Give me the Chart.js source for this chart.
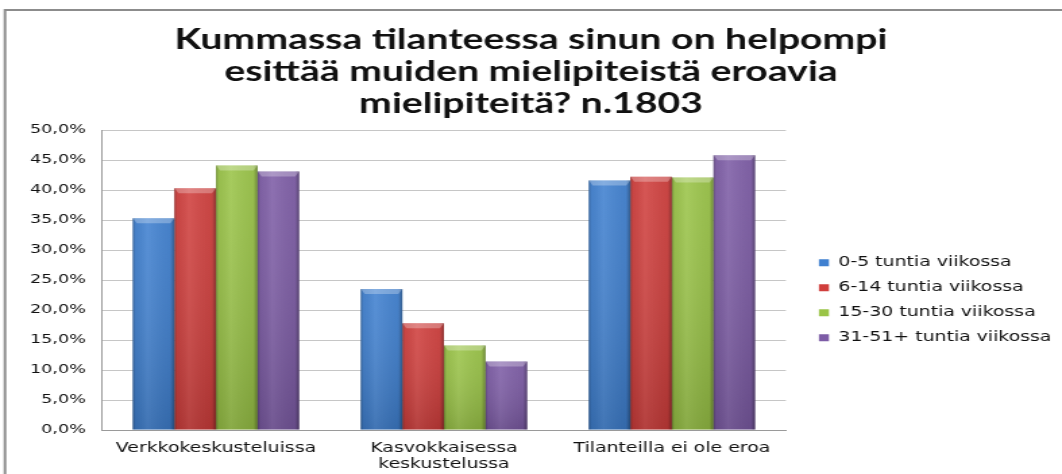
<!DOCTYPE html>
<html>
<head>
<meta charset="utf-8">
<script src="https://cdn.jsdelivr.net/npm/chart.js@4/dist/chart.umd.min.js"></script>
<style>
  html, body { margin: 0; padding: 0; background: #fff; overflow: hidden; }
  /* the original picture is stretched sideways, so the chart is drawn narrow and scaled */
  #wrap { width: 787px; height: 474px; transform: scaleX(1.3494); transform-origin: 0 0; }
</style>
</head>
<body>
<div id="wrap"><canvas id="chart" width="787" height="474"></canvas></div>
<script>
const categories = ['Verkkokeskusteluissa', ['Kasvokkaisessa', 'keskustelussa'], 'Tilanteilla ei ole eroa'];
const seriesNames = ['0-5 tuntia viikossa', '6-14 tuntia viikossa', '15-30 tuntia viikossa', '31-51+ tuntia viikossa'];
const hours0to5 = [35.3, 23.5, 41.6];
const hours6to14 = [40.3, 17.8, 42.2];
const hours15to30 = [44.1, 14.1, 42.1];
const hours31plus = [43.1, 11.4, 45.8];
const seriesColors = ['#3f80d0', '#d03e3c', '#9ac447', '#7d5ca6'];
const titleLines = ['Kummassa tilanteessa sinun on helpompi', 'esittää muiden mielipiteistä eroavia', 'mielipiteitä? n.1803'];

const tickFont = { family: 'DejaVu Sans', size: 13, lineHeight: 1.23 };
const labelFont = { family: 'DejaVu Sans', size: 14, lineHeight: 1.143 };

// white background and the grey frame around the chart
const framePlugin = {
  id: 'frame',
  beforeDraw(chart) {
    const ctx = chart.ctx;
    ctx.save();
    ctx.fillStyle = '#fff';
    ctx.fillRect(0, 0, chart.width, chart.height);
    ctx.strokeStyle = '#8c8c8c';
    ctx.lineWidth = 2;
    ctx.beginPath();
    ctx.moveTo(3.7, chart.height);
    ctx.lineTo(3.7, 10);
    ctx.lineTo(chart.width, 10);
    ctx.stroke();
    ctx.restore();
  }
};

// shading on top of each bar to get the bevelled look
const bevelPlugin = {
  id: 'bevel',
  afterDatasetsDraw(chart) {
    const ctx = chart.ctx;
    chart.data.datasets.forEach((ds, i) => {
      const meta = chart.getDatasetMeta(i);
      meta.data.forEach(bar => {
        const { x, y, base, width } = bar.getProps(['x', 'y', 'base', 'width'], true);
        const left = x - width / 2;
        const right = x + width / 2;
        const h = base - y;
        ctx.save();
        let g = ctx.createLinearGradient(left, 0, right, 0);
        g.addColorStop(0, 'rgba(0,0,0,0.30)');
        g.addColorStop(0.06, 'rgba(0,0,0,0.05)');
        g.addColorStop(0.35, 'rgba(255,255,255,0.08)');
        g.addColorStop(0.9, 'rgba(0,0,0,0.05)');
        g.addColorStop(1, 'rgba(0,0,0,0.35)');
        ctx.fillStyle = g;
        ctx.fillRect(left, y, width, h);
        g = ctx.createLinearGradient(0, y, 0, base);
        g.addColorStop(0, 'rgba(255,255,255,0.05)');
        g.addColorStop(1, 'rgba(0,0,0,0.14)');
        ctx.fillStyle = g;
        ctx.fillRect(left, y, width, h);
        // top bevel
        ctx.fillStyle = 'rgba(255,255,255,0.28)';
        ctx.beginPath();
        ctx.moveTo(left, y);
        ctx.lineTo(right, y);
        ctx.lineTo(right - 3, y + 5);
        ctx.lineTo(left + 3, y + 5);
        ctx.closePath();
        ctx.fill();
        ctx.restore();
      });
    });
  }
};

const allSeries = [hours0to5, hours6to14, hours15to30, hours31plus];

new Chart(document.getElementById('chart'), {
  type: 'bar',
  data: {
    labels: categories,
    datasets: allSeries.map((vals, i) => ({
      label: seriesNames[i],
      data: vals,
      backgroundColor: seriesColors[i],
      borderWidth: 0,
      categoryPercentage: 0.73,
      barPercentage: 1.0
    }))
  },
  options: {
    responsive: false,
    animation: false,
    layout: { padding: { left: -2.2, right: -2.2, top: 0, bottom: 4 } },
    plugins: {
      title: {
        display: true,
        text: titleLines,
        color: '#111',
        font: { family: 'Lato', size: 29, weight: 'bold', lineHeight: 1.1035 },
        padding: { top: 24, bottom: 10 }
      },
      legend: {
        position: 'right',
        // empty legend title only pushes the entries down
        title: { display: true, text: '', font: { size: 12 }, padding: { top: 116, bottom: 0 } },
        labels: {
          boxWidth: 7.4,
          boxHeight: 7,
          padding: 11,
          color: '#111',
          font: labelFont
        }
      },
      tooltip: { enabled: false }
    },
    scales: {
      x: {
        afterFit(scale) { scale.height = 40; },
        grid: { display: false, drawTicks: false },
        border: { color: '#9a9a9a', width: 1 },
        ticks: { color: '#111', font: labelFont, padding: 10, maxRotation: 0 }
      },
      y: {
        min: 0,
        max: 50,
        afterFit(scale) { scale.width = 77.8; },
        grid: { color: '#c6c6c6', drawTicks: false },
        border: { color: '#9a9a9a', width: 1 },
        ticks: {
          stepSize: 5,
          color: '#111',
          font: tickFont,
          padding: 12,
          callback: v => v.toFixed(1).replace('.', ',') + '%'
        }
      },
      // hidden axis on the right keeps a gap between plot and legend
      gap: {
        axis: 'y',
        position: 'right',
        display: false,
        afterFit(scale) { scale.width = 13.5; }
      }
    }
  },
  plugins: [framePlugin, bevelPlugin]
});
</script>
</body>
</html>
